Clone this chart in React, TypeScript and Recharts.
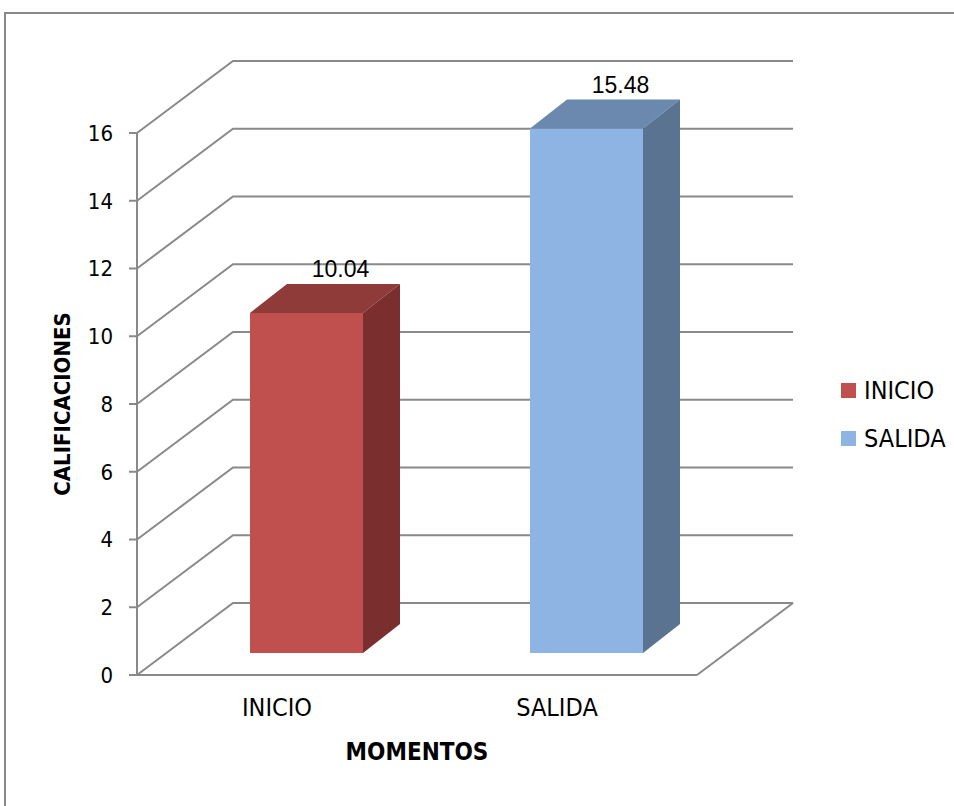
import React from "react";
import {
  BarChart,
  Bar,
  XAxis,
  YAxis,
  CartesianGrid,
  Legend,
  LabelList,
  Label,
} from "recharts";

const momentos = ["INICIO", "SALIDA"];
const calificaciones = [10.04, 15.48];
const yTicks = [0, 2, 4, 6, 8, 10, 12, 14, 16];

const colores: any = {
  INICIO: { front: "#C0504D", top: "#8F3B39", side: "#7A2E2D" },
  SALIDA: { front: "#8DB4E2", top: "#6B89AE", side: "#5A7391" },
};

// one column per momento so the legend lists both and each bar keeps its colour
const data = momentos.map((m, i) => {
  const row: any = { momento: m };
  momentos.forEach((s, j) => {
    row[s] = i === j ? calificaciones[i] : null;
  });
  return row;
});

const W = 954;
const H = 806;
const Y_AXIS_W = 60;
const X_AXIS_H = 40;
const margin = { top: 133, right: 257, bottom: 91, left: 77 };
const PLOT_BOTTOM = H - margin.bottom - X_AXIS_H;

// depth of the 3D box (walls) and of each bar
const WALL_DX = 96;
const WALL_DY = 72;
const SHIFT_X = 29;
const SHIFT_Y = 22;
const BOX_DX = 37;
const BOX_DY = 29;

const GRID = "#898989";
const FONT = '"DejaVu Sans Condensed", "DejaVu Sans", sans-serif';
const VALUE_FONT = '"Liberation Sans", Arial, sans-serif';

const wallLine = (props: any) => {
  const { x1, x2, y1, index } = props;
  const isFloor = Math.abs(y1 - PLOT_BOTTOM) < 1;
  return (
    <g key={`wall-${index}`}>
      <polyline
        points={`${x1},${y1} ${x1 + WALL_DX},${y1 - WALL_DY} ${x2 + WALL_DX},${y1 - WALL_DY}`}
        fill="none"
        stroke={GRID}
        strokeWidth={2}
      />
      {isFloor && (
        <line
          x1={x2}
          y1={y1}
          x2={x2 + WALL_DX}
          y2={y1 - WALL_DY}
          stroke={GRID}
          strokeWidth={2}
        />
      )}
    </g>
  );
};

const Box3D = (props: any) => {
  const { x, y, width, height, dataKey } = props;
  if (!height || height <= 0) return null;
  const c = colores[dataKey];
  const fx = x + SHIFT_X;
  const fy = y - SHIFT_Y;
  const fb = y + height - SHIFT_Y;
  return (
    <g>
      <rect x={fx} y={fy} width={width} height={height} fill={c.front} />
      <polygon
        points={`${fx},${fy} ${fx + BOX_DX},${fy - BOX_DY} ${fx + width + BOX_DX},${fy - BOX_DY} ${fx + width},${fy}`}
        fill={c.top}
      />
      <polygon
        points={`${fx + width},${fy} ${fx + width + BOX_DX},${fy - BOX_DY} ${fx + width + BOX_DX},${fb - BOX_DY} ${fx + width},${fb}`}
        fill={c.side}
      />
    </g>
  );
};

const valueLabel = (props: any) => {
  const { x, y, width, value } = props;
  if (value == null) return null;
  const cx = x + SHIFT_X + width / 2 + 34;
  const by = y - SHIFT_Y - BOX_DY - 7;
  return (
    <text
      x={cx}
      y={by}
      textAnchor="middle"
      fontFamily={VALUE_FONT}
      fontSize={23}
      fill="#000"
    >
      {value.toFixed(2)}
    </text>
  );
};

const renderLegend = (props: any) => {
  const { payload } = props;
  return (
    <div style={{ fontFamily: FONT, fontSize: 25, color: "#000" }}>
      {payload.map((item: any) => (
        <div
          key={item.value}
          style={{ display: "flex", alignItems: "center", height: 48 }}
        >
          <span
            style={{
              display: "inline-block",
              width: 15,
              height: 15,
              background: item.color,
              marginRight: 8,
            }}
          />
          {item.value}
        </div>
      ))}
    </div>
  );
};

export default function App() {
  return (
    <div
      style={{
        position: "fixed",
        left: 0,
        top: 0,
        width: W,
        height: H,
        overflow: "hidden",
        background: "#fff",
      }}
    >
      <div
        style={{
          position: "absolute",
          left: 4,
          top: 12,
          width: 1000,
          height: 900,
          border: `2px solid ${GRID}`,
        }}
      />
      <div style={{ position: "absolute", left: 0, top: 0 }}>
        <BarChart width={W} height={H} data={data} margin={margin}>
          <CartesianGrid vertical={false} horizontal={wallLine} />
          <XAxis
            dataKey="momento"
            height={X_AXIS_H}
            axisLine={{ stroke: GRID, strokeWidth: 2 }}
            tickLine={false}
            tickSize={0}
            tickMargin={23}
            tick={{ fill: "#000", fontSize: 25, fontFamily: FONT }}
          >
            <Label
              content={(p: any) => {
                const vb = p.viewBox;
                return (
                  <text
                    x={vb.x + vb.width / 2}
                    y={PLOT_BOTTOM + 85}
                    textAnchor="middle"
                    fontFamily={FONT}
                    fontWeight="bold"
                    fontSize={24}
                    fill="#000"
                  >
                    MOMENTOS
                  </text>
                );
              }}
            />
          </XAxis>
          <YAxis
            width={Y_AXIS_W}
            domain={[0, 16]}
            ticks={yTicks}
            interval={0}
            axisLine={{ stroke: GRID, strokeWidth: 2 }}
            tickLine={{ stroke: GRID, strokeWidth: 2 }}
            tickSize={8}
            tickMargin={16}
            tick={{ fill: "#000", fontSize: 22, fontFamily: FONT }}
          >
            <Label
              content={(p: any) => {
                const vb = p.viewBox;
                const cy = vb.y + vb.height / 2;
                return (
                  <text
                    x={vb.x - 7}
                    y={cy}
                    transform={`rotate(-90, ${vb.x - 7}, ${cy})`}
                    textAnchor="middle"
                    fontFamily={FONT}
                    fontWeight="bold"
                    fontSize={22}
                    fill="#000"
                  >
                    CALIFICACIONES
                  </text>
                );
              }}
            />
          </YAxis>
          <Legend
            layout="vertical"
            align="center"
            verticalAlign="middle"
            wrapperStyle={{ left: 841, top: 366, width: "auto" }}
            content={renderLegend}
          />
          {momentos.map((m) => (
            <Bar
              key={m}
              dataKey={m}
              stackId="momentos"
              barSize={113}
              fill={colores[m].front}
              shape={Box3D}
              isAnimationActive={false}
            >
              <LabelList dataKey={m} content={valueLabel} />
            </Bar>
          ))}
        </BarChart>
      </div>
    </div>
  );
}
